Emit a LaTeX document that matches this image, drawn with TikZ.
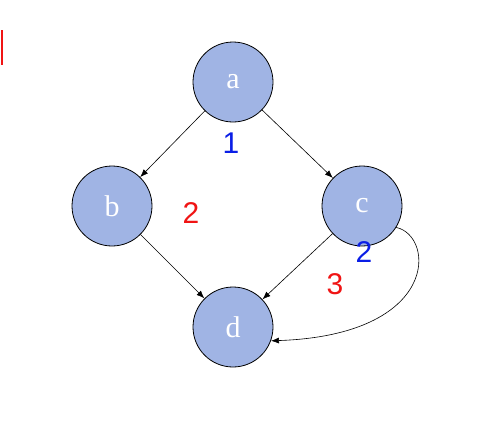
\documentclass[tikz,border=0pt]{standalone}
\usepackage{fontspec}
\setmainfont{Liberation Serif}
\newfontfamily\handfont{Liberation Sans}
\usetikzlibrary{arrows.meta}
\definecolor{nodefill}{RGB}{160,180,228}
\definecolor{inkred}{RGB}{240,20,20}
\definecolor{inkblue}{RGB}{10,30,230}
\tikzset{
  vertex/.style={circle,draw=black,line width=0.8pt,fill=nodefill,minimum size=80pt,inner sep=0pt,text=white,font=\fontsize{30}{34}\selectfont},
  edge/.style={-{Latex[length=8pt,width=6pt]},line width=0.6pt},
  note/.style={font=\handfont\fontsize{30}{34}\selectfont,inner sep=0pt}
}
\begin{document}
\begin{tikzpicture}[x=1pt,y=-1pt]
\useasboundingbox (0,0) rectangle (501,432);
\node[vertex] (a) at (233,82) {a};
\node[vertex] (b) at (112,206) {b};
\node[vertex] (c) at (362,206) {c};
\node[vertex] (d) at (233,327) {d};
\draw[edge] (a) -- (b);
\draw[edge] (a) -- (c);
\draw[edge] (b) -- (d);
\draw[edge] (c) -- (d);
\draw[edge] (c.-32) .. controls (435,236) and (440,335) .. (d.-20);
\coordinate (r1) at (2,30);
\coordinate (r2) at (2,65);
\draw[inkred,line width=2pt] (r1) -- (r2);
\node[note,text=inkblue] (n1) at (231,143) {1};
\node[note,text=inkred] (n2) at (191,213) {2};
\node[note,text=inkblue] (n3) at (364,252) {2};
\node[note,text=inkred] (n4) at (335,284) {3};
\end{tikzpicture}
\end{document}
